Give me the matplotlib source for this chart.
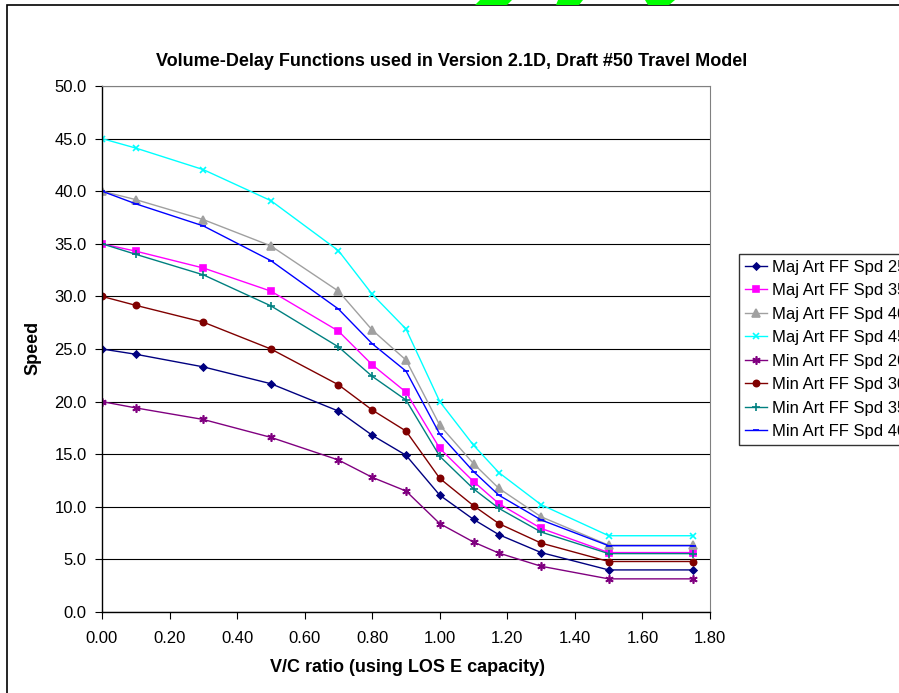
import numpy as np
import matplotlib
matplotlib.use('Agg')
from matplotlib import pyplot as plt
from matplotlib.patches import Rectangle, Polygon

plt.rcParams['font.family'] = ['Liberation Sans', 'DejaVu Sans']

# V/C ratio points
vc = [0.0, 0.1, 0.3, 0.5, 0.7, 0.8, 0.9, 1.0, 1.1, 1.175, 1.3, 1.5, 1.75]

# speeds per facility type
maj25 = [25.0, 24.5, 23.3, 21.7, 19.1, 16.8, 14.9, 11.1, 8.8, 7.35, 5.65, 4.0, 4.0]
maj35 = [35.0, 34.3, 32.7, 30.5, 26.7, 23.5, 20.9, 15.55, 12.4, 10.3, 7.95, 5.65, 5.65]
maj40 = [40.0, 39.2, 37.3, 34.8, 30.5, 26.8, 23.95, 17.75, 14.1, 11.75, 9.05, 6.35, 6.35]
maj45 = [45.0, 44.1, 42.05, 39.1, 34.35, 30.2, 26.9, 20.0, 15.85, 13.25, 10.2, 7.25, 7.25]
min20 = [20.0, 19.4, 18.3, 16.6, 14.45, 12.8, 11.5, 8.4, 6.65, 5.6, 4.35, 3.15, 3.15]
min30 = [30.0, 29.15, 27.55, 25.0, 21.6, 19.2, 17.2, 12.7, 10.1, 8.4, 6.55, 4.8, 4.8]
min35 = [35.0, 34.0, 32.05, 29.1, 25.2, 22.4, 20.15, 14.8, 11.7, 9.85, 7.6, 5.55, 5.55]
min40 = [40.0, 38.8, 36.7, 33.4, 28.8, 25.5, 22.9, 16.9, 13.35, 11.1, 8.75, 6.3, 6.3]

labels = ['Maj Art FF Spd 25', 'Maj Art FF Spd 35', 'Maj Art FF Spd 40',
          'Maj Art FF Spd 45', 'Min Art FF Spd 20', 'Min Art FF Spd 30',
          'Min Art FF Spd 35', 'Min Art FF Spd 40']
series = [maj25, maj35, maj40, maj45, min20, min30, min35, min40]

# colour, marker, marker size
styles = [
    ('#000080', 'D', 3.5),
    ('#FF00FF', 's', 5),
    ('#A0A0A0', '^', 5.5),
    ('#00FFFF', 'x', 5),
    ('#800080', (6, 2, 0), 6),
    ('#800000', 'o', 4.5),
    ('#008080', '+', 6),
    ('#0000FF', '_', 5),
]

W, H = 899, 693
fig = plt.figure(figsize=(W / 100, H / 100), dpi=100)
ax = fig.add_axes([102 / W, 1 - 612 / H, (710 - 102) / W, (612 - 86) / H])

for s, lab, (c, m, ms) in zip(series, labels, styles):
    ax.plot(vc, s, color=c, marker=m, markersize=ms, markeredgewidth=1.2,
            linewidth=1.0, label=lab)

ax.set_xlim(0, 1.8)
ax.set_ylim(0, 50)
ax.set_xticks(np.arange(0, 1.81, 0.2))
ax.set_yticks(np.arange(0, 50.1, 5))
ax.set_xticklabels(['%.2f' % v for v in np.arange(0, 1.81, 0.2)])
ax.set_yticklabels(['%.1f' % v for v in np.arange(0, 50.1, 5)])
ax.yaxis.grid(True, color='black', linewidth=0.8)
ax.set_axisbelow(True)
ax.tick_params(axis='both', direction='out', length=5, width=0.8,
               labelsize=12, colors='black')
ax.tick_params(axis='x', pad=9)
ax.tick_params(axis='y', pad=6)
ax.spines['right'].set_color('#808080')
ax.spines['top'].set_color('#808080')
for sp in ['left', 'bottom']:
    ax.spines[sp].set_linewidth(1.0)

fig.text(452 / W, 1 - 62 / H,
         'Volume-Delay Functions used in Version 2.1D, Draft #50 Travel Model',
         ha='center', va='center', fontsize=13, fontweight='bold')
fig.text(408 / W, 1 - 668 / H, 'V/C ratio (using LOS E capacity)',
         ha='center', va='center', fontsize=13, fontweight='bold')
fig.text(33 / W, 1 - 348 / H, 'Speed', rotation=90,
         ha='center', va='center', fontsize=13, fontweight='bold')

leg = fig.legend(loc='upper left', bbox_to_anchor=(739 / W, 1 - 254 / H),
                 fontsize=12, frameon=True, fancybox=False, borderaxespad=0,
                 borderpad=0.35, labelspacing=0.51, handlelength=1.3,
                 handletextpad=0.3)
leg.get_frame().set_edgecolor('black')
leg.get_frame().set_linewidth(1.0)

# chart area border (runs off right and bottom)
fig.patches.append(Rectangle((7 / W, -0.05), 1.2, 1 - 5 / H + 0.05,
                             transform=fig.transFigure, fill=False,
                             edgecolor='black', linewidth=1.2))

# green bits peeking over the top edge
for pts in [[(480, 0), (512, 0), (507, 5), (475, 5)],
            [(558, 0), (583, 0), (579, 5), (556, 5)],
            [(645, 0), (675, 0), (669, 5), (648, 5)]]:
    fig.patches.append(Polygon([(px / W, 1 - py / H) for px, py in pts],
                               closed=True, transform=fig.transFigure,
                               facecolor='#00FF00', edgecolor='none'))

fig.savefig('out.png', dpi=100)
